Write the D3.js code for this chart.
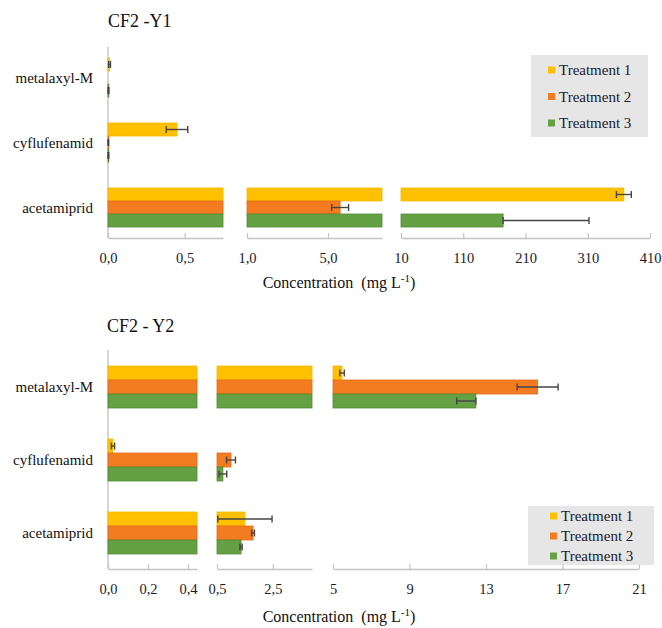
<!DOCTYPE html>
<html>
<head>
<meta charset="utf-8">
<script src="https://cdn.jsdelivr.net/npm/d3@7"></script>
<style>
  body { margin: 0; background: #fff; }
  svg { display: block; font-family: "Liberation Serif", "DejaVu Serif", serif; }
</style>
</head>
<body>
<div id="chart"></div>
<script>
const categories = ["metalaxyl-M", "cyflufenamid", "acetamiprid"];
const treatments = ["Treatment 1", "Treatment 2", "Treatment 3"];

// Year 1 means (mg L-1), one value per category
const y1Treatment1 = [0.01, 0.45, 368];
const y1Treatment2 = [0, 0.001, 5.6];
const y1Treatment3 = [0.003, 0.002, 174];
// error bars as [minus, plus]
const y1Treatment1Err = [[0.006, 0.006], [0.07, 0.07], [12, 12]];
const y1Treatment2Err = [[0, 0], [0.003, 0.003], [0.42, 0.42]];
const y1Treatment3Err = [[0.003, 0.003], [0.003, 0.003], [0, 138]];

// Year 2
const y2Treatment1 = [5.47, 0.025, 1.5];
const y2Treatment2 = [15.7, 1.0, 1.79];
const y2Treatment3 = [12.47, 0.71, 1.36];
const y2Treatment1Err = [[0.12, 0.12], [0.008, 0.008], [0.97, 0.97]];
const y2Treatment2Err = [[1.07, 1.07], [0.16, 0.16], [0.05, 0.05]];
const y2Treatment3Err = [[1.0, 0], [0.14, 0.14], [0.04, 0.04]];

// broken x axis: domain of each piece and its ticks
const y1Segments = [[0, 0.75], [1, 7.67], [10, 410]];
const y1Ticks = [[0, 0.5], [1, 5], [10, 110, 210, 310, 410]];
const y2Segments = [[0, 0.445], [0.5, 3.9], [5, 21]];
const y2Ticks = [[0, 0.2, 0.4], [0.5, 2.5], [5, 9, 13, 17, 21]];

const colors = ["#ffc000", "#f47c20", "#65a144"];
const strokes = ["#f5b800", "#e5691a", "#4f8c2f"];

const commaLocale = d3.formatLocale({ decimal: ",", thousands: ".", grouping: [3], currency: ["", ""] });
const fmtDec = commaLocale.format(".1f");
const fmtInt = d3.format("d");

const svg = d3.select("#chart").append("svg")
    .attr("width", 662)
    .attr("height", 628);

function drawPanel(p) {
    const g = svg.append("g");

    const y = d3.scaleBand()
        .domain(categories)
        .range(p.band)
        .paddingInner(p.padInner)
        .paddingOuter(p.padInner / 2);
    const ySub = d3.scaleBand()
        .domain(treatments)
        .range([0, y.bandwidth()]);

    // title
    g.append("text")
        .attr("x", p.titleX)
        .attr("y", p.titleY)
        .style("font-size", "18px")
        .style("fill", "#111")
        .text(p.title);

    // x axis pieces
    const xs = p.segments.map((dom, i) => d3.scaleLinear().domain(dom).range(p.ranges[i]).clamp(true));
    xs.forEach((x, i) => {
        const ax = g.append("g")
            .attr("transform", `translate(0,${p.axisY})`)
            .call(d3.axisBottom(x)
                .tickValues(p.ticks[i])
                .tickSizeInner(-5)
                .tickSizeOuter(0)
                .tickPadding(15)
                .tickFormat(i < p.decSegments ? fmtDec : fmtInt));
        ax.attr("font-family", null);
        ax.select(".domain").attr("stroke", "#c4c4c4").attr("stroke-width", 1.4);
        ax.selectAll(".tick line").attr("stroke", "#c4c4c4").attr("stroke-width", 1.2);
        ax.selectAll(".tick text")
            .style("font-size", "14.5px")
            .attr("fill", "#1a1a2a");
    });

    // vertical axis line
    g.append("line")
        .attr("x1", p.ranges[0][0]).attr("x2", p.ranges[0][0])
        .attr("y1", p.axisTop).attr("y2", p.axisY)
        .attr("stroke", "#c4c4c4")
        .attr("stroke-width", 1.4);

    // category labels
    g.selectAll(".cat")
        .data(categories)
        .join("text")
        .attr("class", "cat")
        .attr("x", p.ranges[0][0] - 15)
        .attr("y", d => y(d) + y.bandwidth() / 2 + 5)
        .attr("text-anchor", "end")
        .style("font-size", "15px")
        .style("fill", "#111")
        .text(d => d);

    // bars, piece by piece
    const rows = [];
    p.values.forEach((vals, ti) => {
        vals.forEach((v, ci) => {
            rows.push({ cat: categories[ci], t: treatments[ti], ti, v, err: p.errors[ti][ci] });
        });
    });

    xs.forEach((x, si) => {
        const d0 = p.segments[si][0];
        g.selectAll(null)
            .data(rows.filter(r => r.v > d0))
            .join("rect")
            .attr("x", x(d0))
            .attr("y", r => y(r.cat) + ySub(r.t))
            .attr("width", r => Math.max(0.8, x(r.v) - x(d0)))
            .attr("height", ySub.bandwidth())
            .attr("fill", r => colors[r.ti])
            .attr("stroke", r => strokes[r.ti])
            .attr("stroke-width", 0.8);

        // error bars where the mean sits inside this piece
        const eb = rows.filter(r => r.v >= d0 && r.v <= p.segments[si][1] && (r.err[0] > 0 || r.err[1] > 0));
        const eg = g.selectAll(null).data(eb).join("g")
            .attr("stroke", "#454545")
            .attr("stroke-width", 1.4);
        const cy = r => y(r.cat) + ySub(r.t) + ySub.bandwidth() / 2;
        eg.append("line")
            .attr("x1", r => x(r.v - r.err[0]))
            .attr("x2", r => x(r.v + r.err[1]))
            .attr("y1", cy).attr("y2", cy);
        eg.append("line")
            .attr("x1", r => x(r.v - r.err[0]))
            .attr("x2", r => x(r.v - r.err[0]))
            .attr("y1", r => cy(r) - 3.5).attr("y2", r => cy(r) + 3.5);
        eg.append("line")
            .attr("x1", r => x(r.v + r.err[1]))
            .attr("x2", r => x(r.v + r.err[1]))
            .attr("y1", r => cy(r) - 3.5).attr("y2", r => cy(r) + 3.5);
    });

    // axis title
    const t = g.append("text")
        .attr("x", p.labelX)
        .attr("y", p.labelY)
        .attr("text-anchor", "middle")
        .style("font-size", "16px")
        .style("fill", "#111");
    t.append("tspan").text("Concentration\u00a0\u00a0(mg L");
    t.append("tspan").attr("dy", -6).style("font-size", "11px").text("-1");
    t.append("tspan").attr("dy", 6).text(")");

    // legend
    const lg = g.append("g").attr("transform", `translate(${p.legend.x},${p.legend.y})`);
    lg.append("rect")
        .attr("width", p.legend.w)
        .attr("height", p.legend.h)
        .attr("fill", "#e6e6e6");
    treatments.forEach((name, i) => {
        const yy = p.legend.first + i * p.legend.step;
        lg.append("rect")
            .attr("x", p.legend.sx)
            .attr("y", yy - 3.5)
            .attr("width", 7)
            .attr("height", 7)
            .attr("fill", colors[i]);
        lg.append("text")
            .attr("x", p.legend.sx + 11)
            .attr("y", yy + 5)
            .style("font-size", "15px")
            .style("fill", "#1a1a2a")
            .text(name);
    });
}

drawPanel({
    title: "CF2 -Y1", titleX: 108, titleY: 27,
    values: [y1Treatment1, y1Treatment2, y1Treatment3],
    errors: [y1Treatment1Err, y1Treatment2Err, y1Treatment3Err],
    segments: y1Segments, ticks: y1Ticks, decSegments: 2,
    ranges: [[108, 223], [247, 382], [401, 650]],
    band: [45, 240], padInner: 0.4,
    axisTop: 47, axisY: 238,
    labelX: 339, labelY: 288,
    legend: { x: 531, y: 55, w: 117, h: 82, sx: 17, first: 15, step: 26.5 }
});

drawPanel({
    title: "CF2 - Y2", titleX: 107, titleY: 332,
    values: [y2Treatment1, y2Treatment2, y2Treatment3],
    errors: [y2Treatment1Err, y2Treatment2Err, y2Treatment3Err],
    segments: y2Segments, ticks: y2Ticks, decSegments: 2,
    ranges: [[108, 197], [217, 312], [333, 639]],
    band: [350.5, 569.5], padInner: 0.425,
    axisTop: 350, axisY: 569,
    labelX: 339, labelY: 622,
    legend: { x: 528, y: 506, w: 126, h: 59, sx: 22, first: 10, step: 20 }
});
</script>
</body>
</html>
